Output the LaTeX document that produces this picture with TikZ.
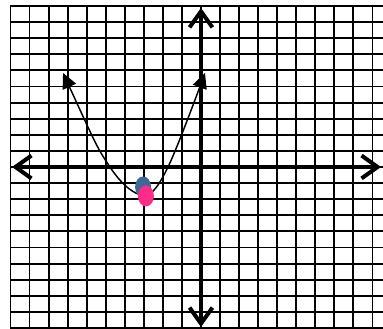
\documentclass[tikz,border=0pt]{standalone}
\usepackage{xcolor}
\usepackage{tikz}
\usetikzlibrary{arrows.meta,shapes.geometric}
\definecolor{vtxblue}{HTML}{3D6898}
\definecolor{vtxpink}{HTML}{FF2D88}
\tikzset{
  % grid paper
  gridline/.style={line width=1.4pt,black,line cap=rect},
  % axes
  axisline/.style={line width=3pt,black,{Straight Barb[length=0.42cm,width=0.6cm]}-{Straight Barb[length=0.42cm,width=0.6cm]}},
  % parabola
  curveline/.style={line width=1.1pt,black,{Triangle[length=0.4cm,width=0.38cm]}-{Triangle[length=0.4cm,width=0.38cm]}},
}

\begin{document}
\begin{tikzpicture}[
  x=0.5cm,y=0.4226cm,
  vtxdot/.style={ellipse,minimum width=0.42cm,minimum height=0.55cm,inner sep=0pt},
]
\useasboundingbox[fill=white] (-10.55,-10.06) rectangle (9.554,10.37);

%% ===== grid paper =====
\foreach \i in {-10,...,9}
  \draw[gridline] (\i,-10) -- (\i,10);
\foreach \j in {-10,...,10}
  \draw[gridline] (-10,\j) -- (9.554,\j);

%% ===== axes =====
\coordinate (xleft)   at (-9.92,0);
\coordinate (xright)  at (9.45,0);
\coordinate (ytop)    at (0,9.88);
\coordinate (ybottom) at (0,-9.94);
\draw[axisline] (xleft) -- (xright);
\draw[axisline] (ybottom) -- (ytop);

%% ===== parabola =====
\draw[curveline] plot[smooth,tension=0.55] coordinates {
  (-7.24,5.84) (-4.78,0) (-3.0,-1.75) (-1.73,0) (0.21,5.84)};

%% ===== vertex marks =====
\node[vtxdot,fill=vtxblue] (vblue) at (-3.04,-1.24) {};
\node[vtxdot,fill=vtxpink] (vpink) at (-2.89,-1.80) {};
\end{tikzpicture}
\end{document}
